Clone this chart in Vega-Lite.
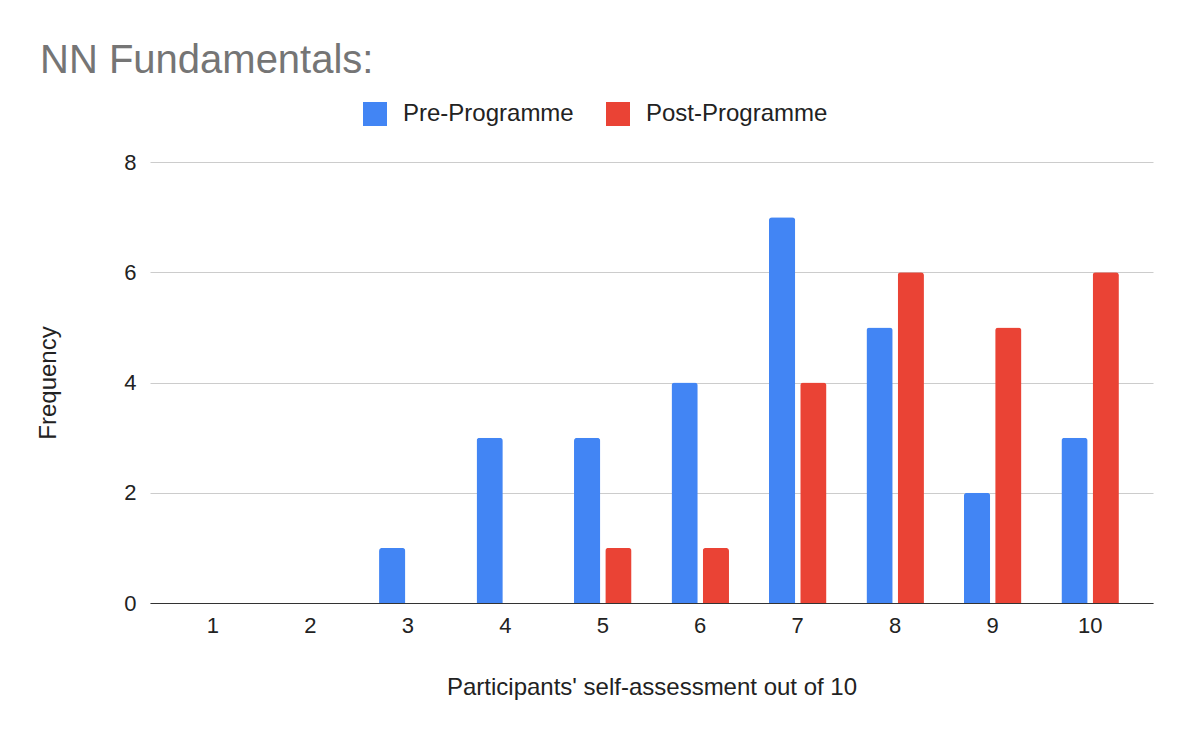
{
  "$schema": "https://vega.github.io/schema/vega-lite/v6.json",
  "width": 1003,
  "height": 441,
  "autosize": {"type": "none"},
  "padding": {"left": 150, "top": 162, "right": 37, "bottom": 133},
  "background": "white",
  "config": {
    "font": "Liberation Sans",
    "view": {"stroke": null}
  },
  "title": {
    "text": "NN Fundamentals:",
    "anchor": "start",
    "frame": "group",
    "dx": -110,
    "fontSize": 40,
    "fontWeight": "normal",
    "color": "#757575",
    "offset": 21
  },
  "data": {
    "values": [
      {"score": 1, "series": "Pre-Programme", "freq": 0},
      {"score": 2, "series": "Pre-Programme", "freq": 0},
      {"score": 3, "series": "Pre-Programme", "freq": 1},
      {"score": 4, "series": "Pre-Programme", "freq": 3},
      {"score": 5, "series": "Pre-Programme", "freq": 3},
      {"score": 6, "series": "Pre-Programme", "freq": 4},
      {"score": 7, "series": "Pre-Programme", "freq": 7},
      {"score": 8, "series": "Pre-Programme", "freq": 5},
      {"score": 9, "series": "Pre-Programme", "freq": 2},
      {"score": 10, "series": "Pre-Programme", "freq": 3},
      {"score": 1, "series": "Post-Programme", "freq": 0},
      {"score": 2, "series": "Post-Programme", "freq": 0},
      {"score": 3, "series": "Post-Programme", "freq": 0},
      {"score": 4, "series": "Post-Programme", "freq": 0},
      {"score": 5, "series": "Post-Programme", "freq": 1},
      {"score": 6, "series": "Post-Programme", "freq": 1},
      {"score": 7, "series": "Post-Programme", "freq": 4},
      {"score": 8, "series": "Post-Programme", "freq": 6},
      {"score": 9, "series": "Post-Programme", "freq": 5},
      {"score": 10, "series": "Post-Programme", "freq": 6}
    ]
  },
  "mark": {"type": "bar", "cornerRadiusTopLeft": 3, "cornerRadiusTopRight": 3},
  "encoding": {
    "x": {
      "field": "score",
      "type": "ordinal",
      "scale": {"paddingInner": 0.41, "paddingOuter": 0.35},
      "axis": {
        "title": "Participants' self-assessment out of 10",
        "titleFontSize": 24,
        "titleFontWeight": "normal",
        "titleColor": "#222",
        "titlePadding": 39,
        "labelAngle": 0,
        "labelFontSize": 22,
        "labelColor": "#222",
        "labelPadding": 12,
        "ticks": false,
        "domainColor": "#333",
        "domainWidth": 1.2
      }
    },
    "xOffset": {
      "field": "series",
      "type": "nominal",
      "scale": {"domain": ["Pre-Programme", "Post-Programme"], "paddingInner": 0.16}
    },
    "y": {
      "field": "freq",
      "type": "quantitative",
      "scale": {"domain": [0, 8]},
      "axis": {
        "title": "Frequency",
        "titleFontSize": 24,
        "titleFontWeight": "normal",
        "titleColor": "#222",
        "titlePadding": 63,
        "values": [0, 2, 4, 6, 8],
        "labelFontSize": 22,
        "labelColor": "#222",
        "labelPadding": 14,
        "ticks": false,
        "domain": false,
        "gridColor": "#cccccc",
        "gridWidth": 1
      }
    },
    "color": {
      "field": "series",
      "type": "nominal",
      "scale": {"domain": ["Pre-Programme", "Post-Programme"], "range": ["#4285F4", "#EA4335"]},
      "legend": {
        "title": null,
        "orient": "none",
        "legendX": 213,
        "legendY": -60,
        "direction": "horizontal",
        "symbolType": "square",
        "symbolSize": 576,
        "symbolStrokeWidth": 0,
        "labelFontSize": 24,
        "labelColor": "#222",
        "labelOffset": 16,
        "labelLimit": 400,
        "columnPadding": 32
      }
    }
  }
}
